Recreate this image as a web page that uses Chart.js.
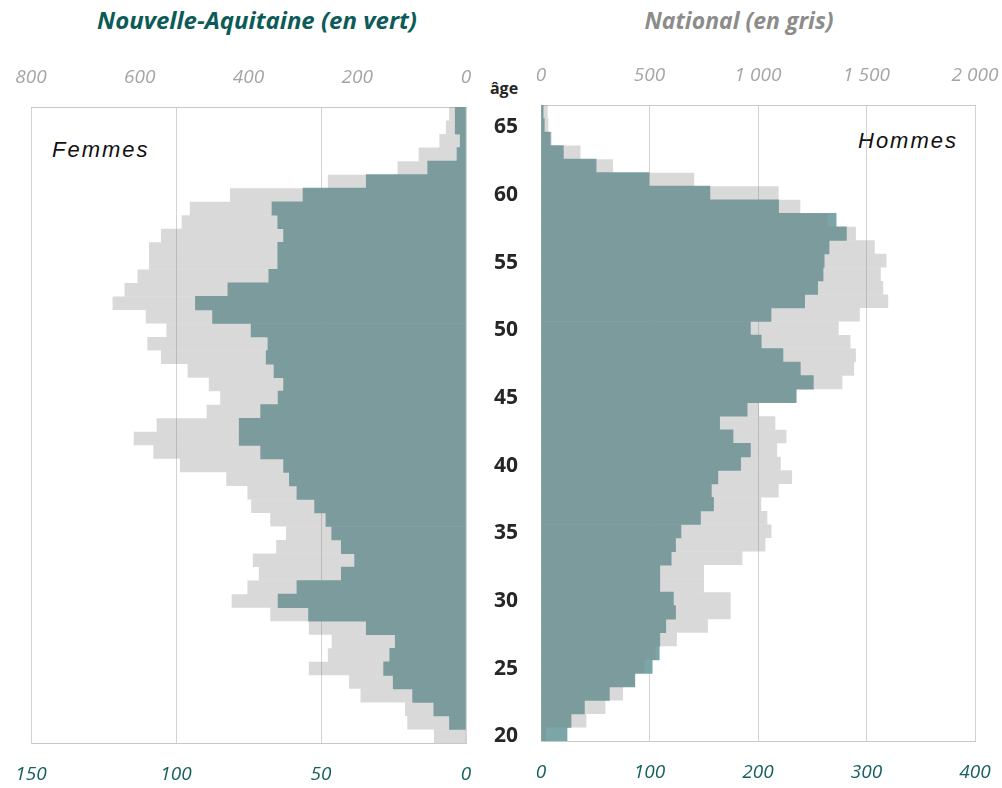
<!DOCTYPE html>
<html>
<head>
<meta charset="utf-8">
<script src="https://cdn.jsdelivr.net/npm/chart.js@4"></script>
<style>
  body { margin:0; background:#fff; }
  #page { position:relative; width:1002px; height:788px; overflow:hidden; font-family:"Open Sans", sans-serif; }
  .txt { position:absolute; white-space:nowrap; }
  .title { font-weight:bold; font-style:italic; line-height:30px; top:5px; width:400px; text-align:center; }
  .sex { font-family:"Liberation Sans", Arial, sans-serif; font-style:italic; font-size:22px; letter-spacing:2px; color:#111; line-height:26px; }
  canvas { position:absolute; top:0; }
</style>
</head>
<body>
<div id="page">
  <div class="txt title" style="left:57px;color:#0d5b58;font-size:24px">Nouvelle-Aquitaine (en vert)</div>
  <div class="txt title" style="left:539px;color:#8c8c8c;font-size:23px">National (en gris)</div>
  <div class="txt" style="left:484px;top:77px;width:40px;text-align:center;font-weight:bold;font-size:16px;color:#262626">âge</div>
  <div class="txt sex" style="left:52px;top:137px">Femmes</div>
  <div class="txt sex" style="left:858px;top:128px">Hommes</div>
  <canvas id="femmes" width="480" height="788" style="left:0"></canvas>
  <canvas id="hommes" width="522" height="788" style="left:480px"></canvas>
</div>
<script>
// ages 20 -> 66
const ages = [];
for (let a = 20; a <= 66; a++) ages.push(String(a));

// Femmes
const femmesNA = [0, 5.7, 11.1, 18.4, 25.1, 28.4, 26.3, 24.4, 34.4, 54.3,
  64.8, 58.3, 43, 38.4, 43, 46.3, 48.3, 52.2, 58.3, 60.9,
  62.9, 70.8, 78.2, 78.2, 70.8, 64.8, 62.9, 66.2, 68.9, 68.3,
  74.1, 87.4, 93.3, 82.1, 68, 64.9, 64.9, 62.9, 64.9, 66.9,
  56.2, 34.4, 13.2, 3.1, 2, 3.7, 3.7];
const femmesNat = [59, 108, 112, 194, 215, 289, 254, 247, 289, 360,
  431, 402, 381, 392, 349, 331, 360, 395, 402, 441,
  526, 575, 611, 569, 477, 452, 473, 512, 561, 586,
  551, 589, 650, 628, 604, 583, 583, 561, 523, 508,
  434, 254, 126, 87, 49, 37, 31];

// Hommes
const hommesNA = [24, 27.7, 40, 63, 86.5, 102.5, 109, 109.5, 115, 124,
  122, 109.5, 109.5, 120, 124, 129, 147, 159, 157, 163,
  184, 193, 177, 164.6, 190, 235, 251, 239, 223, 203,
  193, 212, 243, 255, 260, 261, 265.5, 281.5, 272, 219,
  155.7, 99.4, 50.8, 20.6, 8.6, 3, 2];
const hommesNat = [23, 209, 297, 378, 432, 478, 528, 626, 769, 874,
  874, 751, 751, 928, 1034, 1062, 1043, 1015, 1095, 1157,
  1105, 1088, 1131, 1080, 1005, 1180, 1389, 1443, 1451, 1426,
  1372, 1469, 1600, 1577, 1566, 1592, 1538, 1451, 1320, 1195,
  1095, 706, 332, 182, 49, 34, 31];

const tealColor = '#7aa6a8';
const grayColor = 'rgba(128,128,128,0.3)';
const gridColor = 'rgba(128,128,128,0.35)';
const tickFont = {family: 'Open Sans', size: 19, style: 'italic'};

function thousands(v) {
  return String(v).replace(/\B(?=(\d{3})+(?!\d))/g, ' ');
}

// fixed box sizes so the plot area lands where the original has it
function fixBox(w, h) {
  return s => {
    if (w !== null) s.width = w;
    if (h !== null) s.height = h;
    s.paddingLeft = 0; s.paddingRight = 0; s.paddingTop = 0; s.paddingBottom = 0;
  };
}

function makeChart(id, na, nat, left) {
  const ctx = document.getElementById(id);
  return new Chart(ctx, {
    type: 'bar',
    data: {
      labels: ages,
      datasets: [
        // gray is see-through and sits on top; no inflate so rows don't double up
        {label: 'National', data: nat, xAxisID: 'xNat', backgroundColor: grayColor, order: 0, inflateAmount: 0},
        {label: 'Nouvelle-Aquitaine', data: na, xAxisID: 'xNA', backgroundColor: tealColor, order: 1}
      ]
    },
    options: {
      responsive: false,
      animation: false,
      indexAxis: 'y',
      datasets: { bar: { grouped: false, barPercentage: 1, categoryPercentage: 1, borderWidth: 0 } },
      layout: { padding: left ? {left: 31, right: 14, top: 0, bottom: 0} : {left: 0, right: 27, top: 0, bottom: 0} },
      plugins: { legend: {display: false}, tooltip: {enabled: false} },
      scales: {
        y: {
          type: 'category',
          reverse: true,
          display: !left,
          grid: {display: false, drawTicks: false},
          border: {display: true, color: '#bdbdbd'},
          afterFit: fixBox(left ? 0 : 61, null),
          ticks: {
            autoSkip: false,
            padding: 23,
            labelOffset: 2,
            color: '#262626',
            font: {family: 'Open Sans', size: 21, weight: 'bold'},
            callback: function (v) {
              const a = this.getLabelForValue(v);
              return Number(a) % 5 === 0 ? a : '';
            }
          }
        },
        xNA: {
          position: 'bottom',
          reverse: left,
          min: 0,
          max: left ? 150 : 400,
          z: 1,
          afterFit: fixBox(null, left ? 45 : 47),
          grid: {color: gridColor, drawTicks: false},
          border: {display: true, color: '#c8c8c8'},
          ticks: {stepSize: left ? 50 : 100, padding: 20, color: '#176060', font: tickFont}
        },
        xNat: {
          position: 'top',
          reverse: left,
          min: 0,
          max: left ? 800 : 2000,
          afterFit: fixBox(null, left ? 107 : 105),
          grid: {display: true, drawOnChartArea: false, drawTicks: false},
          border: {display: true, color: '#c8c8c8'},
          ticks: {stepSize: left ? 200 : 500, padding: 18, color: '#a5a5a5', font: tickFont, callback: v => thousands(v)}
        }
      }
    }
  });
}

makeChart('femmes', femmesNA, femmesNat, true);
makeChart('hommes', hommesNA, hommesNat, false);
</script>
</body>
</html>
